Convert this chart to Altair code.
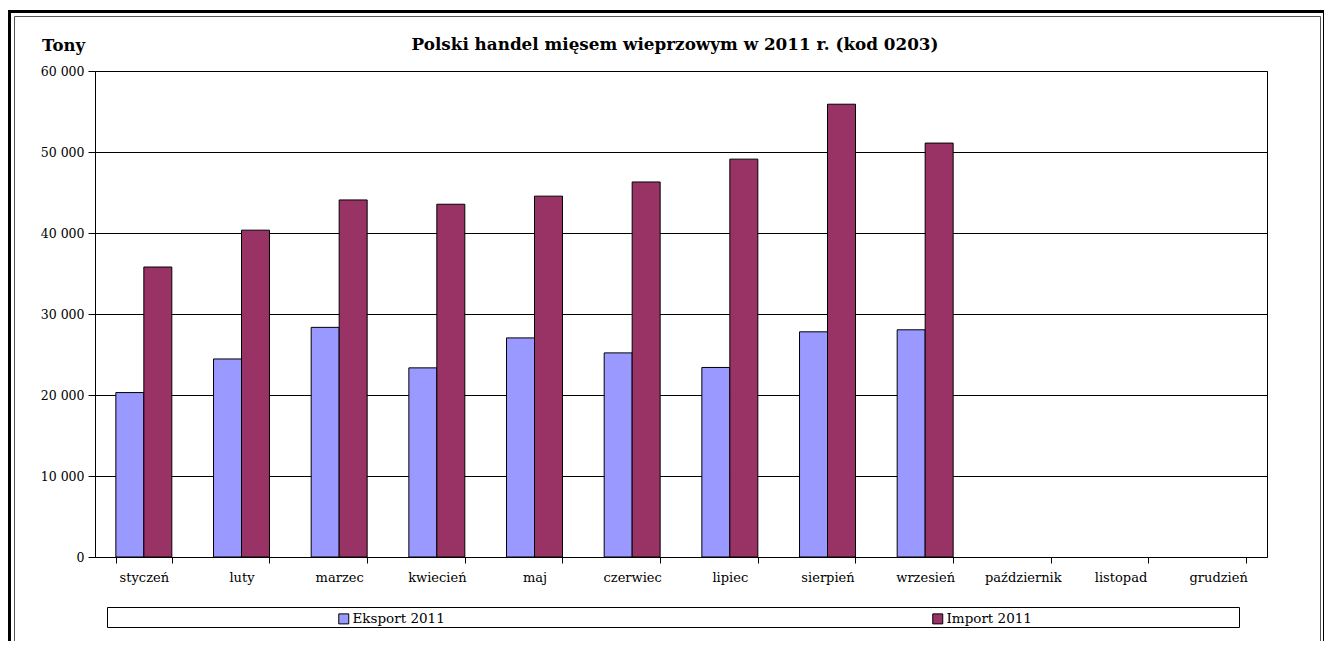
import altair as alt
import pandas as pd

months = ["styczeń", "luty", "marzec", "kwiecień", "maj", "czerwiec", "lipiec",
          "sierpień", "wrzesień", "październik", "listopad", "grudzień"]
eksport = [20300, 24450, 28350, 23350, 27050, 25200, 23400, 27800, 28050]
import_ = [35800, 40350, 44080, 43550, 44550, 46300, 49120, 55900, 51100]
series = ["Eksport 2011", "Import 2011"]
colors = ["#9999FF", "#993366"]
y_ticks = [0, 10000, 20000, 30000, 40000, 50000, 60000]
title_text = "Polski handel mięsem wieprzowym w 2011 r. (kod 0203)"

rows = []
for i, v in enumerate(eksport):
    rows.append({"miesiac": months[i], "seria": series[0], "tony": v})
for i, v in enumerate(import_):
    rows.append({"miesiac": months[i], "seria": series[1], "tony": v})
df = pd.DataFrame(rows)

W, H = 1172, 486
FONT = "DejaVu Serif"

one = pd.DataFrame({"a": [0]})

outer = alt.Chart(one).mark_rect(fill="transparent", stroke="black", strokeWidth=3).encode(
    x=alt.value(-85.5), x2=alt.value(1229.5), y=alt.value(-59.5), y2=alt.value(700)
)
inner = alt.Chart(one).mark_rect(fill="transparent", stroke="#555555", strokeWidth=1).encode(
    x=alt.value(-80.5), x2=alt.value(1225.5), y=alt.value(-54.5), y2=alt.value(700)
)
legend_box = alt.Chart(one).mark_rect(fill="white", stroke="black", strokeWidth=1).encode(
    x=alt.value(12.5), x2=alt.value(1144.5), y=alt.value(536.5), y2=alt.value(556.5)
)
title = alt.Chart(one).mark_text(font=FONT, fontSize=16.8, fontWeight="bold", color="black",
                                 align="center", baseline="middle").encode(
    x=alt.value(W / 2 - 6), y=alt.value(-26), text=alt.value(title_text)
)

bars = alt.Chart(df).mark_bar(stroke="black", strokeWidth=1).encode(
    x=alt.X("miesiac:N", sort=months,
            scale=alt.Scale(domain=months, paddingInner=0.427, paddingOuter=0.2135),
            axis=alt.Axis(title=None, tickBand="extent", labelAngle=0, tickSize=6,
                          tickColor="black", labelPadding=8, labelFont=FONT,
                          labelFontSize=13, labelColor="black", domain=False, grid=False)),
    xOffset=alt.XOffset("seria:N", sort=series,
                        scale=alt.Scale(domain=series, paddingInner=0, paddingOuter=0)),
    y=alt.Y("tony:Q", scale=alt.Scale(domain=[0, 60000]),
            axis=alt.Axis(values=y_ticks, title="Tony", titleAngle=0, titleX=-32, titleY=-26,
                          titleAlign="center", titleBaseline="middle", titleFont=FONT,
                          titleFontSize=16.5, titleFontWeight="bold", titleColor="black",
                          labelExpr="replace(format(datum.value, ','), ',', ' ')",
                          labelFont=FONT, labelFontSize=12.5, labelColor="black",
                          tickSize=7, tickColor="black", labelPadding=4, domain=False,
                          grid=True, gridColor="black", gridWidth=1, gridOpacity=1)),
    color=alt.Color("seria:N", sort=series,
                    scale=alt.Scale(domain=series, range=colors),
                    legend=alt.Legend(title=None, orient="none", legendX=242, legendY=541,
                                      direction="horizontal", symbolType="square",
                                      symbolSize=100, symbolStrokeColor="black",
                                      symbolStrokeWidth=1, labelFont=FONT, labelFontSize=13.5,
                                      labelColor="black", columnPadding=485, padding=0,
                                      labelOffset=2, symbolOpacity=1)),
)

chart = alt.layer(outer, inner, legend_box, title, bars).properties(
    width=W, height=H,
    padding={"left": 87, "top": 63, "right": 57, "bottom": 84},
    autosize=alt.AutoSizeParams(type="none"),
).configure(background="white").configure_view(stroke="black", strokeWidth=1)

chart.save("out.html", embed_options={"renderer": "svg", "actions": False})
